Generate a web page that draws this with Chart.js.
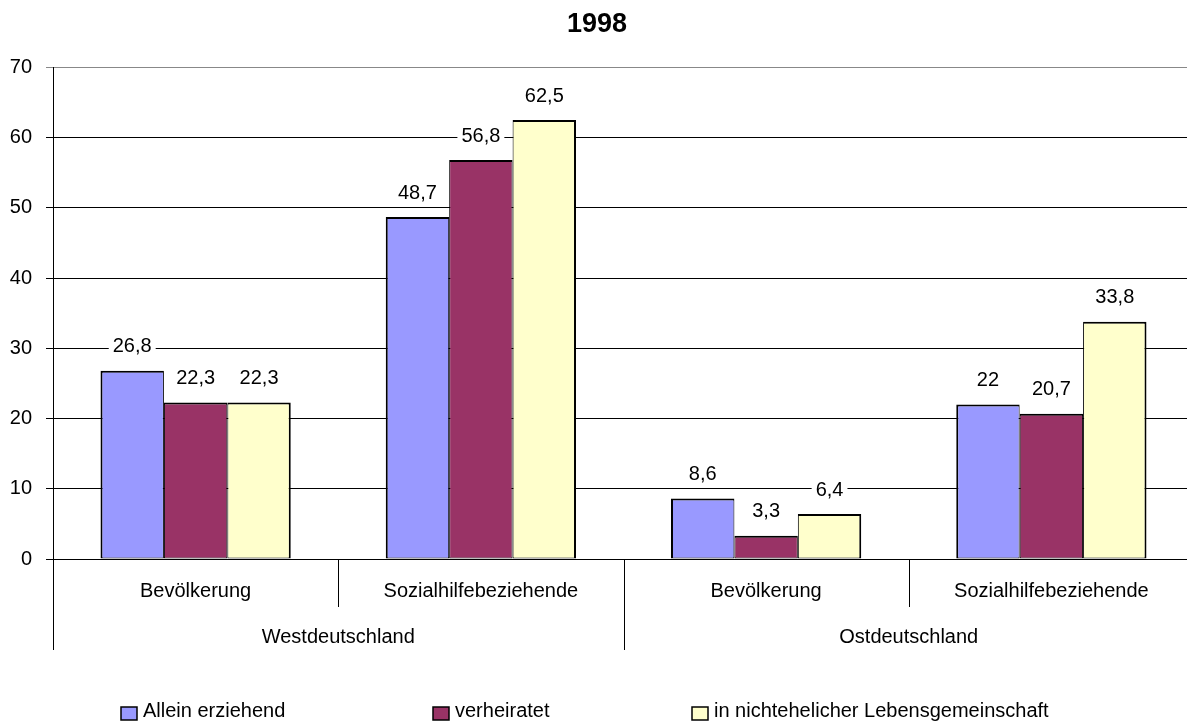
<!DOCTYPE html>
<html>
<head>
<meta charset="utf-8">
<script src="https://cdn.jsdelivr.net/npm/chart.js@4/dist/chart.umd.min.js"></script>
<style>
  html, body { margin:0; padding:0; overflow:hidden; background:#fff; }
  #wrap { position:relative; width:1196px; height:724px; }
</style>
</head>
<body>
<div id="wrap"><canvas id="chart"></canvas></div>
<script>
// Werte 1998, Anteile in Prozent
const categories = ['Bevölkerung', 'Sozialhilfebeziehende', 'Bevölkerung', 'Sozialhilfebeziehende'];
const regions = ['Westdeutschland', 'Ostdeutschland'];
const alleinErziehend = [26.8, 48.7, 8.6, 22];
const verheiratet = [22.3, 56.8, 3.3, 20.7];
const nichtehelich = [22.3, 62.5, 6.4, 33.8];
const seriesNames = ['Allein erziehend', 'verheiratet', 'in nichtehelicher Lebensgemeinschaft'];
const yTicks = [0, 10, 20, 30, 40, 50, 60, 70];

const FONT = '"Liberation Sans", Arial, sans-serif';
const colors = ['#9999FF', '#993366', '#FFFFCC'];

// value above each bar, on a white patch so grid lines don't run through
const valueLabels = {
  id: 'valueLabels',
  afterDatasetsDraw(chart){
    const ctx = chart.ctx;
    ctx.save();
    ctx.font = '20px ' + FONT;
    ctx.textAlign = 'center';
    ctx.textBaseline = 'middle';
    chart.data.datasets.forEach((ds, i) => {
      chart.getDatasetMeta(i).data.forEach((bar, j) => {
        const txt = String(ds.data[j]).replace('.', ',');
        const w = ctx.measureText(txt).width;
        const y = bar.y - 24;
        ctx.fillStyle = '#fff';
        ctx.fillRect(bar.x - w/2 - 4, y - 11, w + 8, 22);
        ctx.fillStyle = '#000';
        ctx.fillText(txt, bar.x, y);
      });
    });
    ctx.restore();
  }
};

// separator lines under the x axis: short between categories, long between regions
const separators = {
  id: 'separators',
  afterDraw(chart){
    const xs = chart.scales.x, area = chart.chartArea, ctx = chart.ctx;
    const n = categories.length, step = xs.width / n, perRegion = n / regions.length;
    ctx.save();
    ctx.strokeStyle = '#000';
    ctx.lineWidth = 1;
    for (let i = 0; i <= n; i++) {
      const x = Math.round(xs.left + i * step) + 0.5;
      const len = i % perRegion === 0 ? 91 : 48;
      ctx.beginPath();
      ctx.moveTo(x, area.bottom);
      ctx.lineTo(x, area.bottom + len);
      ctx.stroke();
    }
    ctx.restore();
  }
};

// legend along the bottom edge, fixed columns
const legendX = [121, 433, 692];
const bottomLegend = {
  id: 'bottomLegend',
  afterDraw(chart){
    const ctx = chart.ctx;
    ctx.save();
    ctx.font = '20px ' + FONT;
    ctx.textBaseline = 'middle';
    ctx.textAlign = 'left';
    chart.data.datasets.forEach((ds, i) => {
      const x = legendX[i];
      ctx.fillStyle = ds.backgroundColor;
      ctx.fillRect(x, 707, 16, 13);
      ctx.strokeStyle = '#000';
      ctx.lineWidth = 1.5;
      ctx.strokeRect(x, 707, 16, 13);
      ctx.fillStyle = '#000';
      ctx.fillText(ds.label, x + 22, 711);
    });
    ctx.restore();
  }
};

const borders = [
  { top: 2, left: 2, right: 1, bottom: 1 },
  { top: 2, left: 1, right: 1, bottom: 1 },
  { top: 2, left: 1, right: 2, bottom: 1 }
];

const ctx = document.getElementById('chart').getContext('2d');
new Chart(ctx, {
  type: 'bar',
  data: {
    labels: categories,
    datasets: [alleinErziehend, verheiratet, nichtehelich].map((d, i) => ({
      label: seriesNames[i],
      data: d,
      backgroundColor: colors[i],
      borderColor: '#000',
      borderWidth: borders[i],
      borderSkipped: false,
      categoryPercentage: 0.667,
      barPercentage: 1
    }))
  },
  options: {
    responsive: true,
    maintainAspectRatio: false,
    animation: false,
    layout: { padding: { left: 0, right: 2, top: 0, bottom: 77 } },
    plugins: {
      legend: { display: false },
      tooltip: { enabled: false },
      title: {
        display: true,
        text: '1998',
        color: '#000',
        font: { family: FONT, size: 27, weight: 'bold' },
        padding: { top: 8, bottom: 27 }
      }
    },
    scales: {
      y: {
        min: 0, max: 70,
        afterBuildTicks: s => { s.ticks = yTicks.map(v => ({ value: v })); },
        afterFit: s => { s.width = 53; },
        grid: { color: c => c.tick && c.tick.value === 70 ? '#888' : '#000', lineWidth: 1, tickLength: 7 },
        border: { display: true, color: '#000', width: 1 },
        ticks: { color: '#000', padding: 14, font: { family: FONT, size: 20 } }
      },
      x: {
        offset: true,
        afterFit: s => { s.height = 42; },
        grid: { display: false },
        border: { display: true, color: '#000' },
        ticks: { color: '#000', padding: 12, maxRotation: 0, autoSkip: false, font: { family: FONT, size: 20 } }
      },
      x2: {
        type: 'category',
        labels: regions,
        position: 'bottom',
        weight: 1,
        offset: true,
        afterFit: s => { s.height = 46; },
        grid: { display: false },
        border: { display: false },
        ticks: { color: '#000', padding: 16, maxRotation: 0, autoSkip: false, font: { family: FONT, size: 20 } }
      }
    }
  },
  plugins: [valueLabels, separators, bottomLegend]
});
</script>
</body>
</html>
